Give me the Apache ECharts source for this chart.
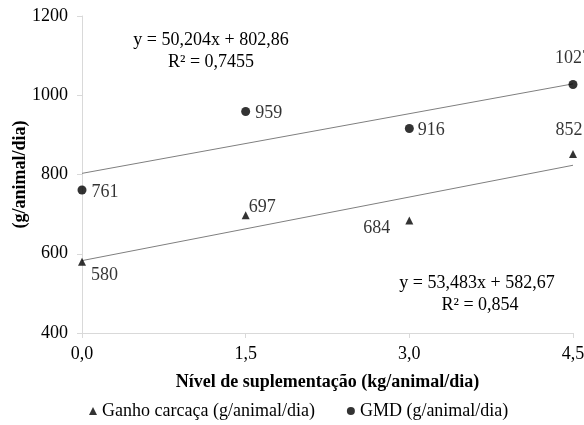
<!DOCTYPE html>
<html>
<head>
<meta charset="utf-8">
<script src="https://cdn.jsdelivr.net/npm/echarts@6/dist/echarts.min.js"></script>
<style>html,body{margin:0;padding:0;background:#fff}#c{width:584px;height:425px}</style>
</head>
<body>
<div id="c"></div>
<script>
var xValues = [0, 1.5, 3, 4.5];
var xTickLabels = ['0,0', '1,5', '3,0', '4,5'];
var gmd = [761, 959, 916, 1027];
var carcaca = [580, 697, 684, 852];
var gmdTrend = [[0, 802.86], [4.5, 1028.78]];
var carcacaTrend = [[0, 582.67], [4.5, 823.34]];
var gmdEq = ['y = 50,204x + 802,86', 'R² = 0,7455'];
var carcacaEq = ['y = 53,483x + 582,67', 'R² = 0,854'];

var FONT = '"Liberation Serif", "Times New Roman", serif';
var gmdLabel = [['right', [0, 2]], ['right', [0, 2]], ['right', [-1, 2]], ['top', [0, -8]]];
var carLabel = [['right', [0, 14]], ['right', [-6, -8]], ['left', [-10, 8]], ['top', [-4, -6]]];

var chart = echarts.init(document.getElementById('c'), null, {renderer: 'canvas'});
var tickMap = {};
xValues.forEach(function (v, i) { tickMap[v] = xTickLabels[i]; });

var labelStyle = {show: true, fontFamily: FONT, fontSize: 18, color: '#000', textBorderWidth: 0,
  formatter: function (p) { return String(p.value[1]); }};

chart.setOption({
  animation: false,
  textStyle: {fontFamily: FONT},
  grid: {left: 82, right: 11, top: 16, bottom: 92, containLabel: false, outerBoundsMode: 'none'},
  xAxis: {
    type: 'value', min: 0, max: 4.5, interval: 1.5,
    name: 'Nível de suplementação (kg/animal/dia)',
    nameLocation: 'middle', nameGap: 40, nameMoveOverlap: false,
    nameTextStyle: {fontFamily: FONT, fontSize: 18, fontWeight: 'bold', color: '#000'},
    axisLine: {lineStyle: {color: '#d9d9d9', width: 1}},
    axisTick: {show: true, length: 5, lineStyle: {color: '#d9d9d9'}},
    splitLine: {show: false},
    axisLabel: {
      fontFamily: FONT, fontSize: 18, color: '#000', margin: 12,
      formatter: function (v) { return tickMap[v] !== undefined ? tickMap[v] : ''; }
    }
  },
  yAxis: {
    type: 'value', min: 400, max: 1200, interval: 200,
    name: '(g/animal/dia)', nameLocation: 'middle', nameGap: 53, nameRotate: 90, nameMoveOverlap: false,
    nameTextStyle: {fontFamily: FONT, fontSize: 18, fontWeight: 'bold', color: '#000'},
    axisLine: {show: true, lineStyle: {color: '#d9d9d9', width: 1}},
    axisTick: {show: true, length: 5, lineStyle: {color: '#d9d9d9'}},
    splitLine: {show: false},
    axisLabel: {fontFamily: FONT, fontSize: 18, color: '#000', margin: 14,
      formatter: function (v) { return String(v); }}
  },
  legend: {
    bottom: 0, left: 84, itemGap: 32, itemWidth: 8, itemHeight: 8,
    textStyle: {fontFamily: FONT, fontSize: 18, color: '#000'},
    data: [
      {name: 'Ganho carcaça (g/animal/dia)', icon: 'triangle'},
      {name: 'GMD (g/animal/dia)', icon: 'circle'}
    ]
  },
  series: [
    {
      name: 'Ganho carcaça (g/animal/dia)', type: 'scatter', symbol: 'triangle', symbolSize: 8,
      itemStyle: {color: '#000'}, z: 5,
      data: carcaca.map(function (v, i) {
        return {value: [xValues[i], v], label: {position: carLabel[i][0], offset: carLabel[i][1]}};
      }),
      label: labelStyle
    },
    {
      name: 'GMD (g/animal/dia)', type: 'scatter', symbol: 'circle', symbolSize: 9,
      itemStyle: {color: '#000'}, z: 5,
      data: gmd.map(function (v, i) {
        return {value: [xValues[i], v], label: {position: gmdLabel[i][0], offset: gmdLabel[i][1]}};
      }),
      label: labelStyle
    },
    {
      name: 'trendGMD', type: 'line', data: gmdTrend, symbol: 'none', silent: true,
      lineStyle: {color: '#7f7f7f', width: 1}, z: 2
    },
    {
      name: 'trendCar', type: 'line', data: carcacaTrend, symbol: 'none', silent: true,
      lineStyle: {color: '#7f7f7f', width: 1}, z: 2
    }
  ],
  graphic: [
    {type: 'text', x: 211, y: 40, style: {text: gmdEq[0], font: '18px ' + FONT, fill: '#000', textAlign: 'center', textVerticalAlign: 'middle'}},
    {type: 'text', x: 211, y: 62, style: {text: gmdEq[1], font: '18px ' + FONT, fill: '#000', textAlign: 'center', textVerticalAlign: 'middle'}},
    {type: 'text', x: 477, y: 283, style: {text: carcacaEq[0], font: '18px ' + FONT, fill: '#000', textAlign: 'center', textVerticalAlign: 'middle'}},
    {type: 'text', x: 480, y: 305, style: {text: carcacaEq[1], font: '18px ' + FONT, fill: '#000', textAlign: 'center', textVerticalAlign: 'middle'}}
  ]
});
</script>
</body>
</html>
